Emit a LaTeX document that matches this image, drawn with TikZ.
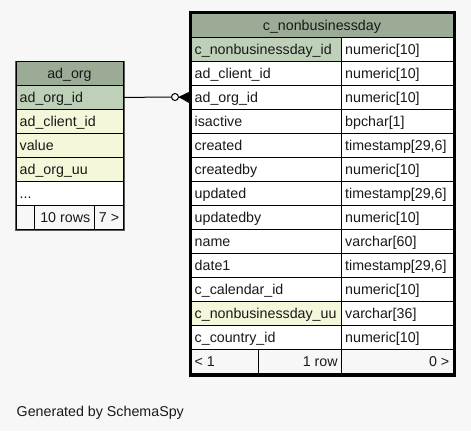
\documentclass[tikz,border=0pt]{standalone}
\usepackage{fontspec}
\setmainfont{Liberation Sans}
\usetikzlibrary{calc}
\definecolor{bg}{HTML}{F7F7F7}
\definecolor{hdr}{HTML}{9BAB96}
\definecolor{pk}{HTML}{BED1B8}
\definecolor{idx}{HTML}{F4F7DA}
\tikzset{
  cellst/.style={draw=black, line width=0.9pt, inner sep=0pt, anchor=north west, rectangle},
  txt/.style={inner sep=0pt, font=\fontsize{14.25}{16}\selectfont, text=black!90},
}
% name, x, y, w, h, fill
\newcommand\mycell[6]{\node[cellst, fill=#6, minimum width=#4pt, minimum height=#5pt] (#1) at (#2,#3) {};}
\newcommand\ltext[2]{\node[txt, anchor=base west] at ($(#1.west)+(4,5)$) {#2};}
\newcommand\rtext[2]{\node[txt, anchor=base east] at ($(#1.east)+(-4,5)$) {#2};}
\newcommand\ctext[2]{\node[txt, anchor=base] at ($(#1.center)+(0,5)$) {#2};}
\begin{document}
\begin{tikzpicture}[x=1pt,y=-1pt]
\fill[bg] (0,0) rectangle (471,431);
\useasboundingbox (0,0) rectangle (471,431);
% ---------- ad_org ----------
\node[draw=black!65, line width=1pt, anchor=north west, minimum width=109pt, minimum height=169pt, inner sep=0pt, fill=white] (adorg) at (14.5,60.5) {};
\mycell{ah}{15.5}{61}{107}{24}{hdr}\ctext{ah}{ad\_org}
\mycell{a1}{15.5}{85}{107}{24}{pk}\ltext{a1}{ad\_org\_id}
\mycell{a2}{15.5}{109}{107}{24}{idx}\ltext{a2}{ad\_client\_id}
\mycell{a3}{15.5}{133}{107}{24}{idx}\ltext{a3}{value}
\mycell{a4}{15.5}{157}{107}{24}{idx}\ltext{a4}{ad\_org\_uu}
\mycell{a5}{15.5}{181}{107}{24}{white}\ltext{a5}{...}
\mycell{af1}{15.5}{205}{18}{23.5}{bg}
\mycell{af2}{33.5}{205}{60}{23.5}{bg}\rtext{af2}{10 rows}
\mycell{af3}{93.5}{205}{29}{23.5}{bg}\rtext{af3}{7 >}
% ---------- c_nonbusinessday ----------
\node[draw=black, line width=2.6pt, anchor=north west, minimum width=264.5pt, minimum height=363pt, inner sep=0pt, fill=white] (cnb) at (189.2,11.3) {};
\mycell{ch}{190.5}{12.5}{262}{24.5}{hdr}\ctext{ch}{c\_nonbusinessday}
\newcommand\crow[5]{%
  \mycell{#1n}{190.5}{#2}{150.5}{24}{#5}\ltext{#1n}{#3}
  \mycell{#1t}{341}{#2}{111.5}{24}{white}\ltext{#1t}{#4}}
\crow{r1}{37}{c\_nonbusinessday\_id}{numeric[10]}{pk}
\crow{r2}{61}{ad\_client\_id}{numeric[10]}{white}
\crow{r3}{85}{ad\_org\_id}{numeric[10]}{white}
\crow{r4}{109}{isactive}{bpchar[1]}{white}
\crow{r5}{133}{created}{timestamp[29,6]}{white}
\crow{r6}{157}{createdby}{numeric[10]}{white}
\crow{r7}{181}{updated}{timestamp[29,6]}{white}
\crow{r8}{205}{updatedby}{numeric[10]}{white}
\crow{r9}{229}{name}{varchar[60]}{white}
\crow{r10}{253}{date1}{timestamp[29,6]}{white}
\crow{r11}{277}{c\_calendar\_id}{numeric[10]}{white}
\crow{r12}{301}{c\_nonbusinessday\_uu}{varchar[36]}{idx}
\crow{r13}{325}{c\_country\_id}{numeric[10]}{white}
\mycell{cf1}{190.5}{349}{67}{23.5}{bg}\ltext{cf1}{< 1}
\mycell{cf2}{257.5}{349}{83.5}{23.5}{bg}\rtext{cf2}{1 row}
\mycell{cf3}{341}{349}{111.5}{23.5}{bg}\rtext{cf3}{0 >}
% ---------- relationship ----------
\node[draw=black, line width=1pt, circle, inner sep=0pt, minimum size=7pt, fill=bg] (odot) at (175,97) {};
\coordinate (cftip) at (179.5,97);
\draw[line width=1pt] (a1.east) -- (odot.west);
\draw[line width=1pt] (odot.east) -- (cftip);
\fill[black] (cftip) -- ($(r3n.west)+(-1.5,-4.5)$) -- ($(r3n.west)+(-1.5,4.5)$) -- cycle;
\draw[line width=1pt] (cftip) -- ($(r3n.west)+(-1.5,-5)$);
\draw[line width=1pt] (cftip) -- ($(r3n.west)+(-1.5,5)$);
% ---------- footer ----------
\node[txt, anchor=base west] (gen) at (16.5,416) {Generated by SchemaSpy};
\end{tikzpicture}
\end{document}
